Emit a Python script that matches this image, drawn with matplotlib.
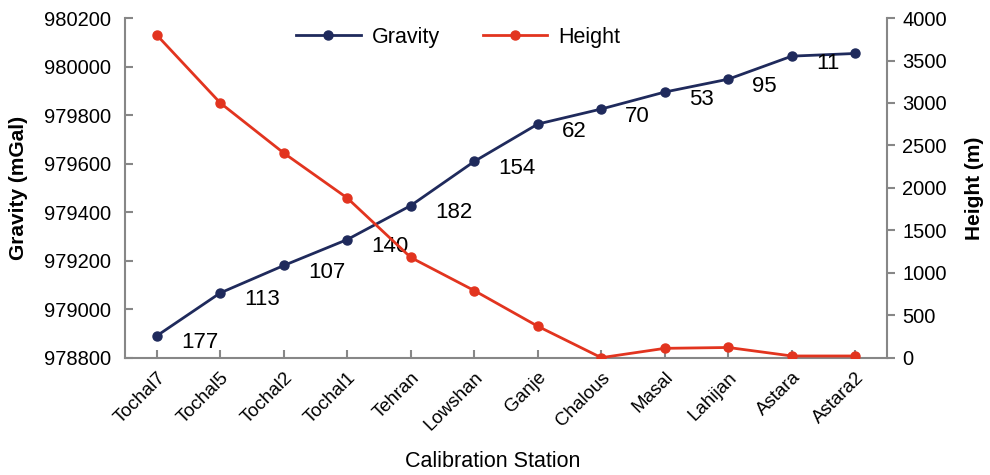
import numpy as np
import matplotlib.pyplot as plt

plt.rcParams['font.family'] = ['Liberation Sans', 'DejaVu Sans']

stations = ['Tochal7', 'Tochal5', 'Tochal2', 'Tochal1', 'Tehran', 'Lowshan',
            'Ganje', 'Chalous', 'Masal', 'Lahijan', 'Astara', 'Astara2']
gravity = [978890, 979067, 979180, 979287, 979427, 979609,
           979763, 979825, 979895, 979948, 980043, 980054]
height = [3800, 3000, 2410, 1880, 1180, 790, 370, 0, 110, 120, 20, 20]

navy = '#1f2a5c'
red = '#e2341f'
grey = '#878787'

x = np.arange(len(stations))
# gravity step between neighbouring stations
steps = np.diff(gravity)

fig = plt.figure(figsize=(9.9, 4.75), dpi=100)
ax = fig.add_axes([0.1263, 0.247, 0.7697, 0.715])
ax2 = ax.twinx()

l1, = ax.plot(x, gravity, color=navy, lw=2, marker='o', ms=6.5, label='Gravity')
l2, = ax2.plot(x, height, color=red, lw=2, marker='o', ms=6.5, label='Height')

for i, s in enumerate(steps):
    ax.annotate(str(s), (x[i], gravity[i]), xytext=(24, -7),
                textcoords='offset pixels', ha='left', va='center', fontsize=16)

ax.set_xlim(-0.5, len(stations) - 0.5)
ax.set_ylim(978800, 980200)
ax.set_yticks(np.arange(978800, 980201, 200))
ax2.set_ylim(0, 4000)
ax2.set_yticks(np.arange(0, 4001, 500))

ax.set_xticks(x)
ax.set_xticklabels(stations, rotation=45, ha='right', rotation_mode='anchor', fontsize=13.5)

for a in (ax, ax2):
    for sp in a.spines.values():
        sp.set_color(grey)
        sp.set_linewidth(1.5)
    a.spines['top'].set_visible(False)
ax.spines['right'].set_visible(False)
ax2.spines['left'].set_visible(False)
ax2.spines['bottom'].set_visible(False)

ax.tick_params(axis='y', direction='in', length=6, width=1.5, color=grey, labelsize=14.5, pad=10)
ax.tick_params(axis='x', direction='in', length=6, width=1.5, color=grey, pad=8)
ax2.tick_params(axis='y', direction='out', length=6, width=1.5, color=grey, labelsize=14.5, pad=5)

ax.set_ylabel('Gravity (mGal)', fontsize=15, fontweight='bold', va='center')
ax.yaxis.set_label_coords(-0.140, 0.5)
ax2.set_ylabel('Height (m)', fontsize=15, fontweight='bold', va='center')
ax2.yaxis.set_label_coords(1.115, 0.5)
ax.set_xlabel('Calibration Station', fontsize=15.5, va='center')
ax.xaxis.set_label_coords(0.482, -0.307)

fig.legend(handles=[l1, l2], loc='center', bbox_to_anchor=(458 / 990, 1 - 37 / 475),
           ncol=2, frameon=False, fontsize=15.5, handlelength=3.0, columnspacing=2.0,
           handletextpad=0.5)

fig.savefig('out.png', dpi=100)
